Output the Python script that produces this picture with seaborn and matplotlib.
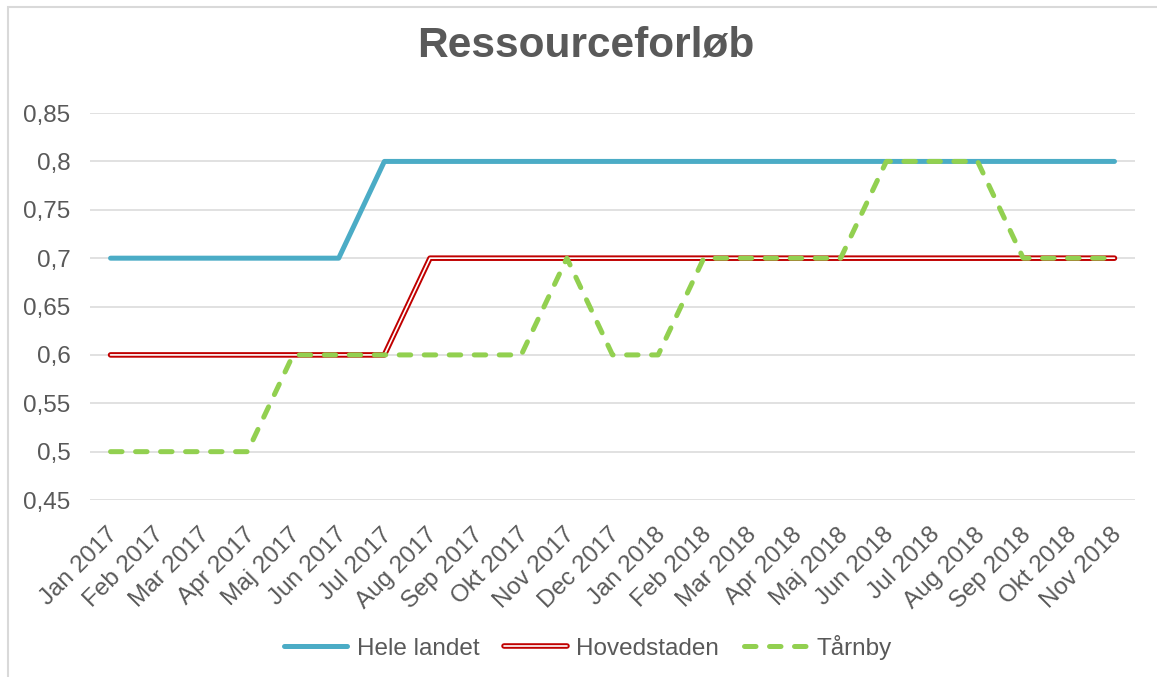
import matplotlib
matplotlib.use("Agg")
import matplotlib.pyplot as plt
import matplotlib.patheffects as pe
import matplotlib.transforms as mtransforms
from matplotlib.patches import Rectangle
import pandas as pd
import seaborn as sns

# Data
months = ["Jan 2017", "Feb 2017", "Mar 2017", "Apr 2017", "Maj 2017", "Jun 2017",
          "Jul 2017", "Aug 2017", "Sep 2017", "Okt 2017", "Nov 2017", "Dec 2017",
          "Jan 2018", "Feb 2018", "Mar 2018", "Apr 2018", "Maj 2018", "Jun 2018",
          "Jul 2018", "Aug 2018", "Sep 2018", "Okt 2018", "Nov 2018"]
hele_landet = [0.7, 0.7, 0.7, 0.7, 0.7, 0.7,
               0.8, 0.8, 0.8, 0.8, 0.8, 0.8,
               0.8, 0.8, 0.8, 0.8, 0.8, 0.8,
               0.8, 0.8, 0.8, 0.8, 0.8]
hovedstaden = [0.6, 0.6, 0.6, 0.6, 0.6, 0.6,
               0.6, 0.7, 0.7, 0.7, 0.7, 0.7,
               0.7, 0.7, 0.7, 0.7, 0.7, 0.7,
               0.7, 0.7, 0.7, 0.7, 0.7]
taarnby = [0.5, 0.5, 0.5, 0.5, 0.6, 0.6,
           0.6, 0.6, 0.6, 0.6, 0.7, 0.6,
           0.6, 0.7, 0.7, 0.7, 0.7, 0.8,
           0.8, 0.8, 0.7, 0.7, 0.7]
y_ticks = [0.45, 0.5, 0.55, 0.6, 0.65, 0.7, 0.75, 0.8, 0.85]

sns.set_style("white")
plt.rcParams["font.family"] = ["Liberation Sans", "DejaVu Sans"]
text_color = "#595959"

df = pd.DataFrame({"pos": range(len(months)), "Hele landet": hele_landet,
                   "Hovedstaden": hovedstaden, "Tårnby": taarnby})

fig = plt.figure(figsize=(11.57, 6.77), dpi=100)
ax = fig.add_axes([0.0778, 0.2614, 0.9032, 0.5716])

# frame around the chart like the Excel chart area
fig.patches.append(Rectangle((8 / 1157, -0.01), 1.02, 1 - 7 / 677 + 0.01,
                             transform=fig.transFigure, fill=False,
                             edgecolor="#d9d9d9", linewidth=1.5))

sns.lineplot(data=df, x="pos", y="Hele landet", ax=ax, color="#4bacc6",
             linewidth=3.6, label="Hele landet")
sns.lineplot(data=df, x="pos", y="Hovedstaden", ax=ax, color="white",
             linewidth=1.2, label="Hovedstaden")
sns.lineplot(data=df, x="pos", y="Tårnby", ax=ax, color="#92d050",
             linewidth=3.6, label="Tårnby")

lines = ax.get_lines()
lines[0].set_solid_capstyle("round")
lines[0].set_solid_joinstyle("round")
lines[1].set_path_effects([pe.Stroke(linewidth=4.0, foreground="#c00000"), pe.Normal()])
lines[2].set_linestyle((0, (2.3, 2.7)))
lines[2].set_dash_capstyle("round")
lines[2].set_dash_joinstyle("round")

ax.set_xlim(-0.45, len(months) - 1 + 0.45)
ax.set_ylim(0.45, 0.85)
ax.set_yticks(y_ticks)
ax.set_yticklabels([f"{v:g}".replace(".", ",") for v in y_ticks])
ax.set_xticks(range(len(months)))
ax.set_xticklabels(months, rotation=45, ha="right")
ax.tick_params(axis="both", length=0, labelsize=17.5, labelcolor=text_color)
ax.tick_params(axis="y", pad=14)
ax.tick_params(axis="x", pad=17)
offset = mtransforms.ScaledTranslation(12 / 100, 0, fig.dpi_scale_trans)
for lab in ax.get_xticklabels():
    lab.set_transform(lab.get_transform() + offset)

ax.grid(axis="y", color="#d9d9d9", linewidth=1.1)
ax.grid(axis="x", visible=False)
ax.set_axisbelow(True)
for s in ax.spines.values():
    s.set_visible(False)
ax.set_xlabel("")
ax.set_ylabel("")

ax.legend(loc="center", bbox_to_anchor=(0.508, 0.044), bbox_transform=fig.transFigure,
          ncol=3, frameon=False, fontsize=17.5, labelcolor=text_color,
          handlelength=2.6, handletextpad=0.4, columnspacing=1.0)

fig.text(0.506, 0.933, "Ressourceforløb", ha="center", va="center",
         fontsize=30.5, fontweight="bold", color=text_color)

fig.savefig("out.png", dpi=100)
